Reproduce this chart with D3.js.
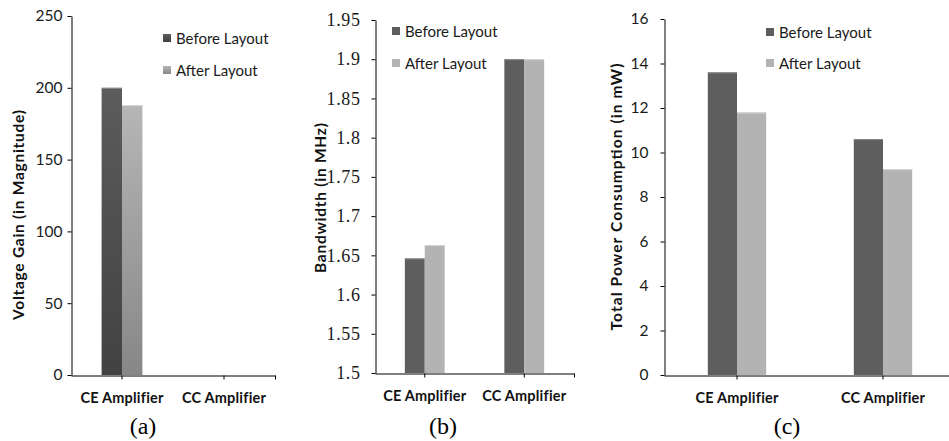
<!DOCTYPE html>
<html>
<head>
<meta charset="utf-8">
<script src="https://cdn.jsdelivr.net/npm/d3@7/dist/d3.min.js"></script>
<style>
  html, body { margin: 0; padding: 0; background: #fff; }
  svg { display: block; }
  .sans { font-family: Lato, "Open Sans", sans-serif; }
  .serif { font-family: "Liberation Serif", "Times New Roman", serif; }
</style>
</head>
<body>
<svg id="chart" width="949" height="441"></svg>
<script>
// Amplifier comparison, before vs after layout
const categories = ["CE Amplifier", "CC Amplifier"];
const seriesNames = ["Before Layout", "After Layout"];

// (a) voltage gain (magnitude); CC amplifier gain is too small to show on this scale
const gainBefore = [200, 0];
const gainAfter = [188, 0];
const gainTicks = [0, 50, 100, 150, 200, 250];

// (b) bandwidth in MHz
const bwBefore = [1.646, 1.9];
const bwAfter = [1.663, 1.9];
const bwTicks = [1.5, 1.55, 1.6, 1.65, 1.7, 1.75, 1.8, 1.85, 1.9, 1.95];
const bwTickLabels = ["1.5", "1.55", "1.6", "1.65", "1.7", "1.75", "1.8", "1.85", "1.9", "1.95"];

// (c) total power consumption in mW
const powerBefore = [13.6, 10.6];
const powerAfter = [11.8, 9.25];
const powerTicks = [0, 2, 4, 6, 8, 10, 12, 14, 16];

const panelLabels = ["(a)", "(b)", "(c)"];
const yTitles = ["Voltage Gain (in Magnitude)", "Bandwidth (in MHz)", "Total Power Consumption (in mW)"];

const svg = d3.select("#chart");
const defs = svg.append("defs");

// vertical shading used by panel (a)
function addGradient(id, top, bottom) {
  const g = defs.append("linearGradient").attr("id", id)
    .attr("x1", 0).attr("y1", 0).attr("x2", 0).attr("y2", 1);
  g.append("stop").attr("offset", "0%").attr("stop-color", top);
  g.append("stop").attr("offset", "100%").attr("stop-color", bottom);
}
addGradient("gradBefore", "#5c5c5c", "#424242");
addGradient("gradAfter", "#b6b6b6", "#878787");

const flatFills = ["#5e5e5e", "#b3b3b3"];
const flatEdges = ["#8a8a8a", "#d6d6d6"];
const gradFills = ["url(#gradBefore)", "url(#gradAfter)"];
const gradEdges = ["#909090", "#d8d8d8"];

const panels = [
  {
    before: gainBefore, after: gainAfter, ticks: gainTicks, tickFmt: d => String(d),
    domain: [0, 250], xRange: [71, 275], yRange: [375, 16],
    tickFont: "sans", tickSize: 15.5, tickSpacing: 0, tickGap: 9,
    fills: gradFills, edges: gradEdges,
    legendX: 163, legendY: [38, 70],
    titleX: 18, titleY: 215, titleLen: 210, labelX: 143
  },
  {
    before: bwBefore, after: bwAfter, ticks: bwTicks, tickFmt: (d, i) => bwTickLabels[i],
    domain: [1.5, 1.95], xRange: [375, 574], yRange: [373, 20],
    tickFont: "serif", tickSize: 18, tickSpacing: 0.6, tickGap: 15,
    fills: flatFills, edges: flatEdges,
    legendX: 392, legendY: [31, 63],
    titleX: 320, titleY: 198, titleLen: 150, labelX: 443
  },
  {
    before: powerBefore, after: powerAfter, ticks: powerTicks, tickFmt: d => String(d),
    domain: [0, 16], xRange: [664, 956], yRange: [375, 19],
    tickFont: "sans", tickSize: 15.5, tickSpacing: 0, tickGap: 16,
    fills: flatFills, edges: flatEdges,
    legendX: 766, legendY: [32, 63],
    titleX: 616, titleY: 197, titleLen: 267, labelX: 787
  }
];

panels.forEach((p, pi) => {
  const g = svg.append("g");
  const x = d3.scaleBand().domain(categories).range(p.xRange).padding(0);
  const y = d3.scaleLinear().domain(p.domain).range(p.yRange);
  const barW = x.bandwidth() * 0.2;
  const x0 = p.xRange[0];
  const yBase = p.yRange[0];

  // bars
  const rows = categories.map((c, i) => ({ c, v: [p.before[i], p.after[i]] }));
  [0, 1].forEach(s => {
    const data = rows.filter(r => r.v[s] > p.domain[0]);
    g.selectAll(null).data(data).enter().append("rect")
      .attr("x", d => x(d.c) + x.bandwidth() / 2 - barW + s * barW)
      .attr("y", d => y(d.v[s]))
      .attr("width", barW)
      .attr("height", d => yBase - y(d.v[s]))
      .attr("fill", p.fills[s]);
    g.selectAll(null).data(data).enter().append("line")
      .attr("x1", d => x(d.c) + x.bandwidth() / 2 - barW + s * barW)
      .attr("x2", d => x(d.c) + x.bandwidth() / 2 + s * barW)
      .attr("y1", d => y(d.v[s]) + 0.5)
      .attr("y2", d => y(d.v[s]) + 0.5)
      .attr("stroke", p.edges[s]).attr("stroke-width", 1);
  });

  // y axis
  const yAxis = g.append("g").attr("transform", `translate(${x0 + 0.5},0)`)
    .call(d3.axisLeft(y).tickValues(p.ticks).tickFormat(p.tickFmt).tickSize(4).tickSizeOuter(0).tickPadding(p.tickGap - 4));
  yAxis.attr("font-family", null);
  yAxis.select(".domain").attr("stroke", "#000");
  yAxis.selectAll(".tick line").attr("stroke", "#000");
  yAxis.selectAll(".tick text")
    .attr("class", p.tickFont)
    .attr("font-size", p.tickSize)
    .attr("letter-spacing", p.tickSpacing)
    .attr("fill", "#1a1a1a");

  // x axis
  const xAxis = g.append("g").attr("transform", `translate(0,${yBase + 0.5})`)
    .call(d3.axisBottom(x).tickSize(4).tickSizeOuter(0).tickPadding(13));
  xAxis.attr("font-family", null);
  xAxis.select(".domain").attr("stroke", "#000");
  xAxis.selectAll(".tick line").attr("stroke", "#000");
  xAxis.selectAll(".tick text")
    .attr("class", "sans")
    .attr("font-size", 14.5)
    .attr("font-weight", "bold")
    .attr("letter-spacing", 0.2)
    .attr("fill", "#111");
  xAxis.append("line")
    .attr("x1", p.xRange[1] + 0.5).attr("x2", p.xRange[1] + 0.5)
    .attr("y1", 0).attr("y2", 4).attr("stroke", "#000");

  // y title
  g.append("text")
    .attr("class", "sans")
    .attr("transform", `translate(${p.titleX},${p.titleY}) rotate(-90)`)
    .attr("text-anchor", "middle")
    .attr("dominant-baseline", "central")
    .attr("font-size", 15.5)
    .attr("font-weight", "bold")
    .attr("fill", "#111")
    .attr("textLength", p.titleLen)
    .attr("lengthAdjust", "spacing")
    .text(yTitles[pi]);

  // legend
  seriesNames.forEach((name, s) => {
    g.append("rect")
      .attr("x", p.legendX).attr("y", p.legendY[s] - 4)
      .attr("width", 8).attr("height", 8)
      .attr("fill", p.fills[s]);
    g.append("text")
      .attr("class", "sans")
      .attr("x", p.legendX + 13).attr("y", p.legendY[s])
      .attr("dominant-baseline", "central")
      .attr("font-size", 15)
      .attr("fill", "#1a1a1a")
      .text(name);
  });

  // panel caption
  g.append("text")
    .attr("class", "serif")
    .attr("x", p.labelX).attr("y", 434)
    .attr("text-anchor", "middle")
    .attr("font-size", 24)
    .attr("fill", "#000")
    .text(panelLabels[pi]);
});
</script>
</body>
</html>
